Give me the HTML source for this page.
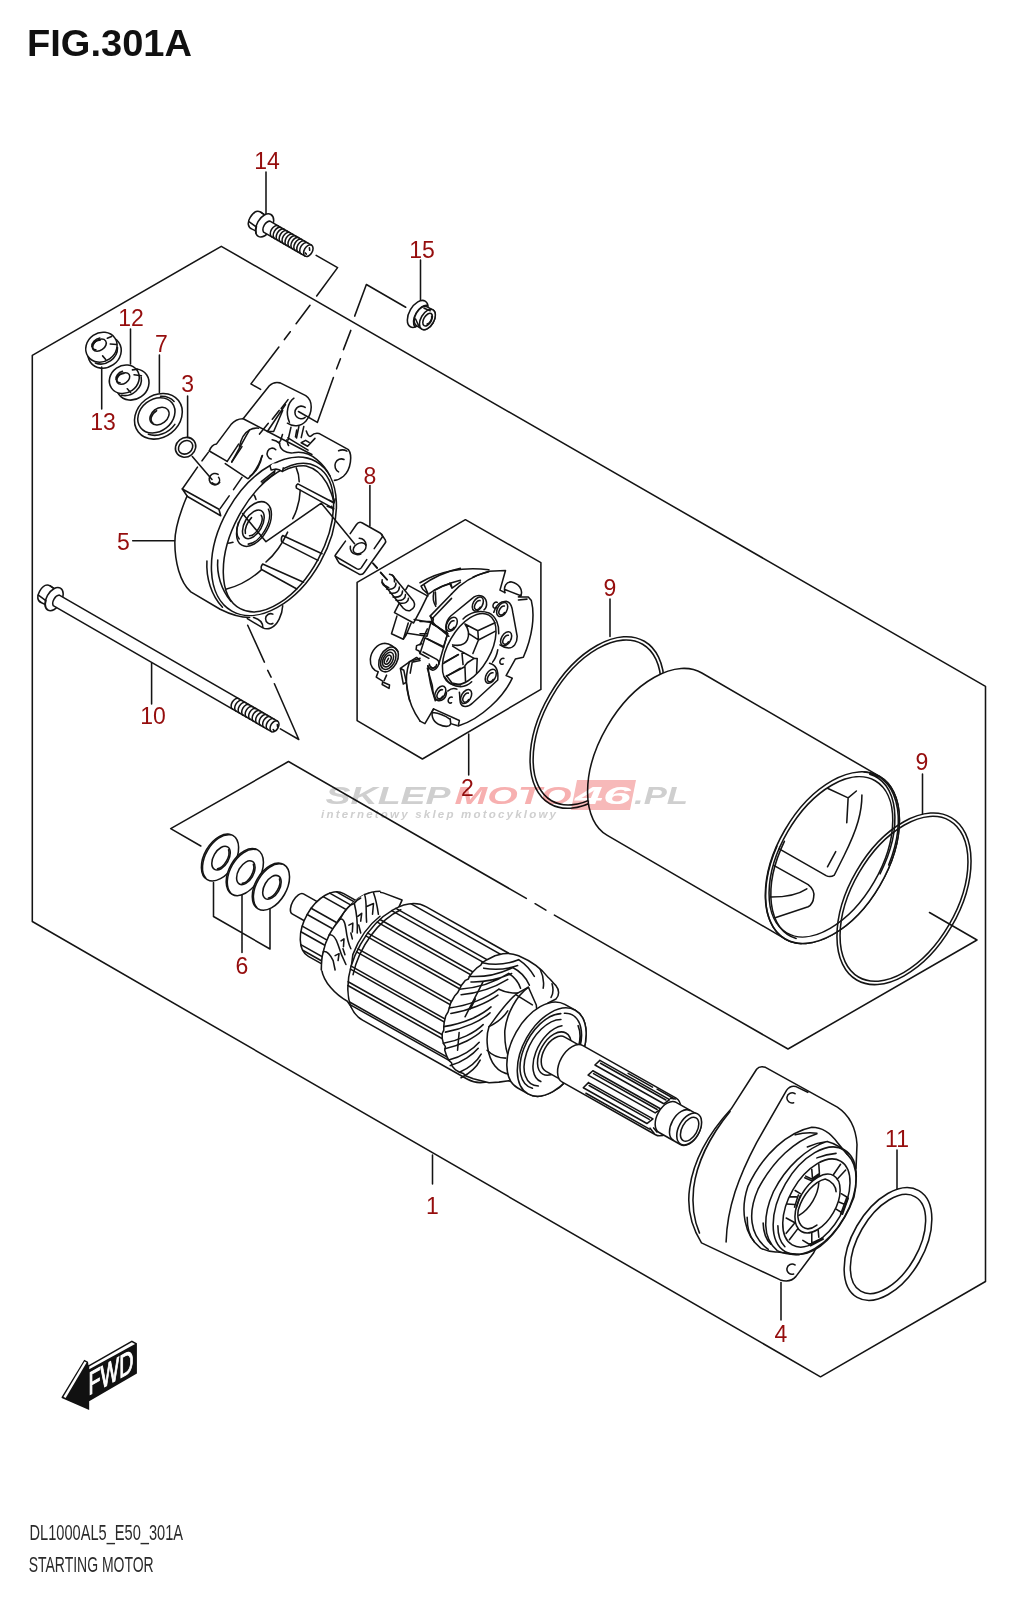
<!DOCTYPE html>
<html><head><meta charset="utf-8"><title>FIG.301A STARTING MOTOR</title>
<style>
html,body{margin:0;padding:0;background:#fff;}
body{width:1016px;height:1600px;overflow:hidden;font-family:"Liberation Sans",sans-serif;}
svg{display:block;}
svg text{font-family:"Liberation Sans",sans-serif;}
.k{vector-effect:non-scaling-stroke;fill:none;stroke:#141414;stroke-width:1.55;stroke-linecap:round;stroke-linejoin:round;}
.w{vector-effect:non-scaling-stroke;fill:#fff;stroke:#141414;stroke-width:1.55;stroke-linecap:round;stroke-linejoin:round;}
.t{vector-effect:non-scaling-stroke;fill:none;stroke:#1c1c1c;stroke-width:1;stroke-linecap:round;stroke-linejoin:round;}
.n{fill:#950d0d;font-size:23px;text-anchor:middle;}
</style></head>
<body>
<svg width="1016" height="1600" viewBox="0 0 1016 1600">
<rect width="1016" height="1600" fill="#fff"/>

<!-- TITLE -->
<text x="27" y="56" font-size="37.5" font-weight="bold" fill="#111" textLength="165" lengthAdjust="spacingAndGlyphs">FIG.301A</text>

<!-- FRAME -->
<g id="frame" class="k">
<path d="M32.3,921.5 V355.3 L221.3,246.3 L985.5,686.3 V1281.5 L820.5,1376.8 Z"/>
<!-- inner sub box -->
<path d="M200.8,846 L170.7,828.7 L288.5,761.5 L526.3,898.4 M535.1,903.7 L545.9,910.2 M554.4,915.1 L788,1049 L977,940 L929.5,912.5"/>
<!-- hexagon -->
<path d="M465.4,519.7 L540.9,562.7 V689.4 L422.4,759 L357.1,720.6 V582.4 Z"/>
</g>

<!-- LEADERS -->
<g id="leaders" class="k">
<path d="M266,172 V214"/>
<path d="M420.5,260 V301"/>
<path d="M130.5,329 V364"/>
<path d="M159.4,355 V392.5"/>
<path d="M187.6,396 V437.4"/>
<path d="M101.7,367 V409"/>
<path d="M369.9,485.5 V526"/>
<path d="M132.7,540.7 H174.5"/>
<path d="M192.3,456.5 L212,479.5"/>
<path d="M610,599 V636.5"/>
<path d="M922.5,774 V814"/>
<path d="M151.6,663.5 V704"/>
<path d="M468.7,734 V775"/>
<path d="M432.5,1155 V1184"/>
<path d="M781,1282.5 V1320"/>
<path d="M897,1150 V1189"/>
<path d="M213.5,882.5 V916.5 L270,949 V907.5 M242,895 V952.5"/>
<!-- bolt14 / nut15 leaders -->
</g>

<!-- LABELS -->
<g id="labels">
<text class="n" x="267" y="169.2">14</text>
<text class="n" x="422" y="258">15</text>
<text class="n" x="131" y="325.8">12</text>
<text class="n" x="161.5" y="352.2">7</text>
<text class="n" x="187.6" y="391.5">3</text>
<text class="n" x="103" y="430">13</text>
<text class="n" x="370" y="483.7">8</text>
<text class="n" x="123.3" y="549.7">5</text>
<text class="n" x="610" y="595.5">9</text>
<text class="n" x="153" y="724">10</text>
<text class="n" x="922" y="769.5">9</text>
<text class="n" x="467.5" y="795.6">2</text>
<text class="n" x="242" y="974">6</text>
<text class="n" x="897" y="1147">11</text>
<text class="n" x="432.5" y="1213.5">1</text>
<text class="n" x="781" y="1341.5">4</text>
</g>

<!-- BOLT 14 : local frame origin at flange centre, x along axis (30deg) -->
<g id="bolt14" transform="translate(264.6,225.4) rotate(30)">
<!-- hex head -->
<path class="w" d="M-10,-9.5 C-15,-9.5 -16.5,-4 -16.5,0.5 C-16.5,6 -14,10 -9,9.5 L-3,9 L-3,-9 Z"/>
<path class="k" d="M-15.5,4.5 L-6,5.5 M-10,-9.5 L-4,-9"/>
<!-- flange -->
<ellipse class="w" cx="0" cy="0" rx="7.6" ry="12.6"/>
<path class="k" d="M-3.5,11 A7.6,12.6 0 0 1 -6.5,5"/>
<!-- shaft -->
<path class="w" d="M2.5,-6.4 L50.5,-6.4 A4,6.4 0 0 1 50.5,6.4 L2.5,6.4 A4.6,6.9 0 0 1 2.5,-6.4 Z"/>
<path class="k" d="M50.5,-6.4 A4,6.4 0 0 0 50.5,6.4"/>
<path class="k" d="M12,-6.4 A4,6.4 0 0 0 12,6.4 M15.4,-6.4 A4,6.4 0 0 0 15.4,6.4 M18.8,-6.4 A4,6.4 0 0 0 18.8,6.4 M22.2,-6.4 A4,6.4 0 0 0 22.2,6.4 M25.6,-6.4 A4,6.4 0 0 0 25.6,6.4 M29,-6.4 A4,6.4 0 0 0 29,6.4 M32.4,-6.4 A4,6.4 0 0 0 32.4,6.4 M35.8,-6.4 A4,6.4 0 0 0 35.8,6.4 M39.2,-6.4 A4,6.4 0 0 0 39.2,6.4 M42.6,-6.4 A4,6.4 0 0 0 42.6,6.4 M46,-6.4 A4,6.4 0 0 0 46,6.4"/>
<path class="k" d="M50,-3 L51.5,-1 M49,3.5 L50.5,4"/>
</g>
<!-- bolt14 / nut15 dashed leaders (zoom coords origin 230,240 scale 5.976) -->
<g transform="translate(230,240) scale(0.16733)">
<path class="k" d="M515,92 L643,165 L518,335 M478,390 L395,500 M360,548 L325,595 M292,640 L125,860 L183,893"/>
<path class="k" d="M1050,402 L815,266 L745,455 M722,540 L678,655 M660,710 L637,770 M618,822 L522,1090 L409,1025"/>
</g>
<!-- NUT 15 -->
<g id="nut15" transform="translate(420.5,315.5) rotate(30)">
<ellipse class="w" cx="-3.2" cy="0" rx="8.4" ry="14.8"/>
<path class="k" d="M1,-12.3 A7,12.6 0 0 0 1,12.6"/>
<path class="w" d="M8,-11 A6.5,11 0 0 1 8,11 L1.5,10.8 A6.2,10.8 0 0 1 1.5,-10.8 Z"/>
<ellipse class="w" cx="8" cy="0" rx="6.5" ry="11.2"/>
<ellipse class="k" cx="8.2" cy="0" rx="3.8" ry="7"/>
<path class="k" d="M10,-5 A2.6,5 0 0 1 10,4"/>
<path class="k" d="M-0.5,-8 L6,-9 M-2.5,5.5 L3.5,9.8" />
</g>

<!-- NUT 13 -->
<g id="nut13" transform="translate(101.4,347.2) rotate(-35)">
<ellipse class="k" cx="-0.3" cy="6" rx="17.3" ry="15.2"/>
<ellipse class="w" cx="0" cy="0" rx="16.3" ry="14.3"/>
<path class="k" d="M-14,9.5 A15.5,13.5 0 0 0 13,9.5"/>
<ellipse class="k" cx="-0.5" cy="-2.8" rx="7.6" ry="5.2"/>
<path class="k" d="M-6,-1 A6,4 0 0 1 3,-6.5 M-7.5,-6 A7.5,5 0 0 1 4,-8.5"/>
<path class="k" d="M-4,7.8 L-3.5,12.5 M9,2.5 L14,6.5 M10,-4 L14.5,-3"/>
</g>
<!-- NUT 12 -->
<g id="nut12" transform="translate(124.3,379.2) rotate(-35)">
<ellipse class="k" cx="3.8" cy="9.2" rx="17" ry="14.8"/>
<ellipse class="w" cx="0" cy="0" rx="15.6" ry="13.6"/>
<path class="k" d="M-11.5,11.5 A15.5,13.5 0 0 0 15,8"/>
<ellipse class="k" cx="-0.5" cy="-1.2" rx="7.2" ry="5"/>
<path class="k" d="M-5.5,0.5 A5.5,3.8 0 0 1 3,-5 M-7,-4.5 A7,4.8 0 0 1 3,-7.5"/>
<path class="k" d="M-3,9.5 L-2.5,14.5 M10.5,2 L16,7 M12,-3 L16.5,-0.5"/>
</g>
<!-- WASHER 7 -->
<g id="washer7" transform="translate(158.4,416.3) rotate(-38)">
<ellipse class="w" cx="0" cy="0" rx="25.5" ry="21"/>
<ellipse class="k" cx="-1" cy="-2" rx="20" ry="16"/>
<path class="k" d="M-19,8 A22,18 0 0 0 8,16.5 M14,-14.5 A22,18 0 0 1 21.5,-2"/>
<ellipse class="k" cx="1" cy="0.5" rx="10.5" ry="7.8"/>
<path class="k" d="M-8.5,2 A9,6.5 0 0 1 2,-5.5"/>
</g>
<!-- ORING 3 -->
<g id="oring3" transform="translate(185.6,447.3) rotate(-38)">
<ellipse class="k" cx="0" cy="0" rx="10.6" ry="9.5"/>
<ellipse class="k" cx="0" cy="0" rx="7.6" ry="6.3"/>
</g>

<!-- PLATE 8 (zoom coords origin 325,510 scale 12.7) -->
<g id="plate8" transform="translate(325,510) scale(0.07874)">
<path class="k" d="M320,300 L400,185 Q430,140 475,165 L700,292 Q730,310 730,340 L625,490 M530,630 L460,735 Q435,765 400,745 L135,590 Q125,580 130,575 L260,395"/>
<path class="k" d="M718,308 L765,380 Q778,400 762,422 L500,790 Q472,832 428,812 L190,680 Q172,668 132,588"/>
<ellipse class="k" cx="440" cy="485" rx="88" ry="62" transform="rotate(-32 440 485)"/>
<path class="k" d="M435,360 C480,362 515,395 522,445 M322,462 C312,510 345,560 400,566 C420,568 440,566 455,560"/>
<path class="k" d="M610,680 L660,738 M705,795 L790,885"/>
</g>

<!-- BRUSH HOLDER 2 -->
<!-- frame A: origin 360,560 scale 10.16 : stud, block, spring -->
<g id="brushA" transform="translate(360,560) scale(0.09843)">
<path class="k" d="M130,30 L175,80 M210,125 L275,200"/>
<!-- stud -->
<path class="k" d="M330,155 L545,420 C565,455 555,495 505,515 C475,520 455,505 440,490 L225,225"/>
<path class="k" d="M300,145 C335,150 355,180 350,222 M225,200 C215,240 245,278 292,280 M262,262 L290,280"/>
<path class="k" d="M365,235 C365,280 330,305 270,295 M400,275 C400,320 365,345 302,335 M432,315 C432,360 398,385 335,375 M462,352 C462,395 430,420 366,410 M492,388 C492,425 462,448 400,438"/>
<!-- block -->
<path class="k" d="M465,300 L490,258 L685,365 C650,440 600,540 545,640 L350,535 L395,445"/>
<path class="k" d="M375,570 L320,750 L440,805 L490,640 M440,805 L470,760 L520,640"/>
<path class="k" d="M550,605 L720,635 L680,775 L480,745"/>
<!-- upper arcs / back plate -->
<path class="k" d="M620,265 C750,170 900,110 1020,85 M620,265 L640,300 L690,345 L690,365 M650,250 L690,340"/>
<path class="k" d="M700,345 C780,280 880,240 1020,205 M910,235 L935,285 L1020,225"/>
<path class="k" d="M750,330 C738,380 745,430 770,470"/>
<path class="k" d="M930,345 L712,570 L745,600 M930,390 L740,590"/>
<path class="k" d="M745,600 L735,650 L775,670 L885,742"/>
<!-- brush boxes -->
<path class="k" d="M720,635 L890,750 L850,880 L660,790 L610,950 L700,1000"/>
<path class="k" d="M680,800 L850,890 M640,935 L780,1010 Q810,1030 800,1060 Q780,1115 740,1120 Q700,1110 690,1075"/>
<path class="k" d="M890,750 L840,920 L800,1060 M850,1050 L1000,960 M880,1180 L1020,1100"/>
<path class="k" d="M720,1085 A22,18 0 0 0 762,1085"/>
<path class="k" d="M625,850 L575,870 L570,910 L600,925 L610,950"/>
<!-- spring -->
<path class="k" d="M250,845 C180,850 110,920 105,1010 C100,1080 140,1125 185,1135 L165,1190 L230,1230 M270,1170 L245,1225 M250,845 C300,850 350,880 385,930"/>
<g transform="rotate(28 290 1010)">
<ellipse class="k" cx="290" cy="1010" rx="88" ry="135"/>
<ellipse class="k" cx="288" cy="1012" rx="68" ry="108"/>
<ellipse class="k" cx="286" cy="1014" rx="48" ry="80"/>
<ellipse class="k" cx="284" cy="1016" rx="28" ry="50"/>
<path class="k" d="M284,1000 L284,1040"/>
</g>
<path class="k" d="M230,1240 L300,1270 L295,1305 L225,1265 Z"/>
<!-- lower-left plate corner -->
<path class="k" d="M410,1100 L510,1030 L575,990 L610,1020 L540,1035 M410,1100 L440,1260 L470,1240 L445,1120 Z M530,1040 L510,1150 M470,1240 C480,1300 490,1370 505,1430"/>
<path class="k" d="M690,1075 C700,1200 730,1330 765,1430"/>
</g>
<!-- frame C: origin 420,560 scale 8.128 : plates -->
<g id="brushC" transform="translate(420,560) scale(0.12303)">
<!-- back plate top arc -->
<path class="k" d="M0,185 C150,95 350,50 560,80"/>
<!-- front plate -->
<path class="k" d="M256,276 C330,190 440,125 560,92 L695,86 L650,245 L690,265"/>
<path class="k" d="M430,140 C470,120 520,105 560,95"/>
<path class="k" d="M110,250 C160,220 210,200 250,190 L260,225 M125,260 L130,360"/>
<path class="k" d="M820,290 L800,300 L880,300 L905,330 C935,450 915,620 840,790 L775,805 L700,940 L750,960 C680,1110 500,1290 310,1350 L320,1305 L110,1210 L40,1330 L0,1310"/>
<path class="k" d="M800,325 L870,318"/>
<!-- pins -->
<path class="k" d="M690,265 C678,215 700,175 745,178 C800,190 840,240 820,290 L690,240"/>
<path class="k" d="M110,1210 C85,1250 100,1310 150,1335 C200,1358 240,1360 250,1330 L245,1290 M105,1240 C150,1245 210,1270 245,1295 M250,1330 L300,1345"/>
<!-- ring plate outline -->
<path class="k" d="M225,600 C200,560 205,500 250,455 L440,300 C480,275 530,290 540,340 C545,375 535,395 520,405"/>
<path class="k" d="M600,425 C615,370 650,335 700,335 C735,340 750,380 755,430 L790,620 C790,680 760,715 720,715 C690,715 670,705 650,690"/>
<path class="k" d="M565,840 C610,850 640,890 632,975 L430,1160 C390,1200 340,1200 328,1160 C322,1130 325,1100 320,1075"/>
<path class="k" d="M215,1075 C215,1120 180,1150 145,1143 C115,1135 105,1090 100,1020 L60,880"/>
<path class="k" d="M300,1050 C280,1040 250,1045 225,1065"/>
<!-- centre hole -->
<ellipse class="k" cx="400" cy="725" rx="171" ry="320" transform="rotate(30 400 725)"/>
<path class="k" d="M350,480 C400,430 480,400 560,430 C620,460 645,530 640,600 M632,730 C625,770 610,805 590,830 M200,950 C230,1000 280,1030 330,1030 C370,1028 400,1010 420,990"/>
<!-- rivets -->
<defs><g id="rv"><ellipse class="k" cx="0" cy="0" rx="38" ry="62" transform="rotate(30)"/><path class="k" d="M18,-28 A24,40 30 1 0 20,25"/></g></defs>
<use href="#rv" transform="translate(470,358)"/><use href="#rv" transform="translate(668,402)"/><use href="#rv" transform="translate(700,640)"/><use href="#rv" transform="translate(575,945)"/><use href="#rv" transform="translate(375,1110)"/><use href="#rv" transform="translate(165,1082)"/><use href="#rv" transform="translate(258,522)"/>
<!-- C marks -->
<path class="k" d="M628,345 A20,26 30 1 0 622,388 M682,800 A20,26 30 1 0 676,845 M262,1115 A20,26 30 1 0 256,1160"/>
<!-- brush boxes in hole -->
<path class="k" d="M365,520 L470,575 L610,510 M470,575 L475,650 L610,580 M365,520 C395,560 405,600 385,650 C365,690 320,700 265,690 M400,600 L475,650 L430,760"/>
<path class="k" d="M265,700 L330,740 L440,800 L465,800 L460,920 M440,800 L385,835 L365,860 L370,985 M200,830 L310,770 M215,945 L360,870 M340,745 L350,850"/>
<path class="k" d="M215,940 L260,1000 L330,1015"/>
<!-- left boxes seen in C frame -->
<path class="k" d="M0,500 L100,500 L85,455 M100,500 L125,530 L235,620 M0,600 L60,600 M60,560 L0,690"/>
<path class="k" d="M75,845 C90,900 130,880 135,850"/>
</g>
<!-- frame B: origin 360,540 scale 5.492 -->
<g id="brushB" transform="translate(360,540) scale(0.18208)">
<path class="k" d="M272,668 C240,760 250,880 330,995"/>
<path class="k" d="M272,668 L330,650"/>
</g>

<!-- END CAP 5 : traced in zoom coords (origin 165,375 scale 5.08) -->
<g id="endcap" transform="translate(165,375) scale(0.19685)">
<!-- rim ellipses -->
<ellipse class="k" cx="553.3" cy="819.5" rx="269.6" ry="436" transform="rotate(29.3 553.3 819.5)"/>
<ellipse class="k" cx="576.3" cy="826.2" rx="229.6" ry="409.4" transform="rotate(28.3 576.3 826.2)"/>
<!-- short arcs left -->
<path class="k" d="M213,945 C208,1030 235,1120 292,1180"/>
<path class="k" d="M268,940 C262,1010 285,1090 335,1150"/>
<!-- body outline -->
<path class="k" d="M112,615 C80,690 50,780 50,850 C50,950 75,1050 131,1102 L280,1190 C330,1215 380,1232 430,1232"/>
<!-- bottom ear -->
<path class="k" d="M418,1238 L495,1283 C520,1297 555,1290 580,1240 C592,1215 597,1195 598,1172"/>
<path class="k" d="M450,1232 C480,1240 497,1260 497,1283"/>
<path class="k" d="M548,1215 A26,26 0 1 0 548,1262"/>
<!-- terminal block -->
<path class="k" d="M225,386 L316,439 M306,450 L420,526"/>
<path class="k" d="M220,393 L188,436 M165,468 L88,579"/>
<path class="k" d="M391,520 L348,582 M326,614 L280,679"/>
<path class="k" d="M88,579 L274,682 L283,715 L114,617 Z"/>
<path class="k" d="M270,505 A29,29 0 1 0 278,545 M240,548 A20,20 0 0 0 272,520"/>
<!-- behind terminal block -->
<path class="k" d="M225,386 C232,365 245,352 262,350 L335,252 C355,228 375,222 395,222"/>
<path class="k" d="M316,439 L374,351 M339,442 L391,364"/>
<path class="k" d="M430,279 C405,320 380,370 339,442"/>
<path class="k" d="M378,365 C385,330 400,295 430,279 Q450,268 475,270"/>
<path class="k" d="M495,409 C480,450 455,500 423,526"/>
<path class="k" d="M395,221 L746,404"/>
<!-- top ear -->
<path class="k" d="M400,218 L530,55 Q552,32 585,40 L715,105 C752,130 752,190 715,235 C690,262 650,265 622,245"/>
<path class="k" d="M655,118 C625,140 610,190 632,240"/>
<path class="k" d="M712,165 A32,32 0 1 0 712,215"/>
<path class="k" d="M625,125 L590,170 M580,180 L545,225 M525,245 L480,300"/>
<path class="k" d="M612,150 L520,287 L552,287 L598,180"/>
<path class="k" d="M640,265 L625,330 M680,262 L668,320 M705,262 L692,318"/>
<!-- small C -->
<!-- right boss -->
<!-- notch -->
<!-- ribs -->
<path class="k" d="M857,649 L675,553 Q662,560 668,575 L687,585 L849,674"/>
<path class="k" d="M798,908 L598,815 Q588,825 592,845 L602,853 L777,942"/>
<path class="k" d="M704,1053 L496,960 Q485,972 490,988 L500,993 L670,1087"/>
<!-- inner arcs -->
<path class="k" d="M687,585 C685,640 670,690 649,730"/>
<path class="k" d="M623,798 C595,860 560,910 513,950"/>
<path class="k" d="M309,1089 C380,1070 440,1035 488,991"/>
<!-- bearing -->
<clipPath id="cpE2"><ellipse cx="576.3" cy="826.2" rx="229.6" ry="409.4" transform="rotate(28.3 576.3 826.2)"/></clipPath>
<g clip-path="url(#cpE2)"><g transform="rotate(30 452 757)">
<ellipse class="k" cx="452" cy="757" rx="73" ry="124"/>
<path class="k" d="M478,655 A60,110 0 0 1 478,860"/>
<path class="k" d="M425,860 A60,110 0 0 1 380,790"/>
<ellipse class="k" cx="450" cy="760" rx="44" ry="80"/>
<path class="k" d="M462,700 A30,62 0 0 1 462,820"/>
<path class="k" d="M438,820 A30,62 0 0 1 425,735"/>
</g>
<path class="k" d="M395,588 C430,585 455,600 462,632"/>
<path class="k" d="M258,835 C285,855 320,858 345,850"/>
</g>
<!-- V leader -->
<path class="k" d="M394,704 L513,847 L794,651 L963,857"/>
</g>
<!-- end cap top details : frame origin 250,430 scale 10.16 -->
<g transform="translate(250,430) scale(0.098425)">
<!-- third inner line at top right -->
<path class="k" d="M340,415 C400,385 500,360 570,365 C650,385 730,450 780,540 C815,610 840,680 850,720"/>
<!-- swoosh body line -->
<path class="k" d="M300,130 C300,200 360,240 440,232 C520,215 600,235 680,300 C740,350 790,420 815,470"/>
<path class="k" d="M375,100 C380,130 385,150 392,158 M330,45 L312,105 C305,120 295,128 282,125 M225,100 C250,105 280,118 300,135"/>
<path class="k" d="M385,80 L590,205"/>
<!-- notch -->
<path class="w" d="M205,372 L215,407 L255,398 C285,395 305,405 330,422 L338,385 L330,340 L230,340 Z" style="stroke:none"/>
<path class="k" d="M205,372 L215,407 L255,398 C285,395 305,405 330,422 L338,385 M240,425 L115,525 M250,440 L125,540 M255,400 L248,435"/>
<!-- small C -->
<path class="k" d="M262,200 A52,56 0 1 0 215,295"/>
<!-- bump boundary -->
<path class="k" d="M120,265 C110,350 60,430 0,468"/>
<!-- right boss -->
<path class="k" d="M572,10 C585,50 600,75 622,60 Q655,25 700,35 L1000,200 C1040,250 1030,400 950,470 C920,495 890,510 858,512"/>
<path class="k" d="M955,300 A58,62 0 1 0 900,425 M900,210 C930,198 960,200 985,215"/>
<path class="k" d="M660,85 L585,165 L520,130 L565,105 L600,125"/>
<path class="k" d="M475,0 L462,70"/>
<!-- inner arc + rib start -->
<path class="k" d="M470,385 C490,430 500,480 500,525"/>
<!-- ticks right -->
<path class="k" d="M810,715 L855,740 L865,700 M785,775 L850,800 M830,775 L845,813"/>
</g>

<!-- BOLT 10 -->
<g id="bolt10" transform="translate(54.1,599.1) rotate(30)">
<path class="w" d="M-10,-9.5 C-15,-9.5 -16.5,-4 -16.5,0.5 C-16.5,6 -14,10 -9,9.5 L-3,9 L-3,-9 Z"/>
<path class="k" d="M-15.5,4.5 L-6,5.5 M-10,-9.5 L-4,-9"/>
<ellipse class="w" cx="0" cy="0" rx="7.6" ry="12.6"/>
<path class="k" d="M-3.5,11 A7.6,12.6 0 0 1 -6.5,5"/>
<path class="w" d="M2.5,-6.1 L254.5,-6.1 A3.8,6.1 0 0 1 254.5,6.1 L2.5,6.1 A4.4,6.7 0 0 1 2.5,-6.1 Z"/>
<path class="k" d="M254.5,-6.1 A3.8,6.1 0 0 0 254.5,6.1"/>
<path class="k" d="M209.6,-6.1 A3.8,6.1 0 0 0 209.6,6.1 M213.7,-6.1 A3.8,6.1 0 0 0 213.7,6.1 M217.7,-6.1 A3.8,6.1 0 0 0 217.7,6.1 M221.8,-6.1 A3.8,6.1 0 0 0 221.8,6.1 M225.8,-6.1 A3.8,6.1 0 0 0 225.8,6.1 M229.8,-6.1 A3.8,6.1 0 0 0 229.8,6.1 M233.9,-6.1 A3.8,6.1 0 0 0 233.9,6.1 M237.9,-6.1 A3.8,6.1 0 0 0 237.9,6.1 M242.0,-6.1 A3.8,6.1 0 0 0 242.0,6.1 M246.0,-6.1 A3.8,6.1 0 0 0 246.0,6.1 M250.1,-6.1 A3.8,6.1 0 0 0 250.1,6.1"/>
<path class="k" d="M256,-3 L257.5,-1 M255,3.5 L256.5,4"/>
</g>
<!-- dashed line from cap ear to bolt10 end -->
<path class="k" d="M247.7,625.3 L264.4,662.1 M267.7,670.4 L271.1,677.1 M274.4,683.8 L298.8,739.5 L280.4,728.9"/>

<!-- O-RING 9 left -->
<g transform="translate(597.1,722.5) rotate(30.2)">
<ellipse class="k" cx="0" cy="0" rx="55" ry="94"/>
<ellipse class="k" cx="0" cy="0" rx="52" ry="90.5"/>
</g>
<!-- CYLINDER HOUSING -->
<g id="cyl" transform="translate(654.6,754.2) rotate(30.2)">
<path class="w" d="M0,-94 L205.7,-94 A55,94 0 0 1 205.7,94 L0,94 A55,94 0 0 1 0,-94 Z"/>
<ellipse class="w" cx="205.7" cy="0" rx="55" ry="94"/>
<ellipse class="k" cx="204" cy="0" rx="50" ry="88"/>
<path class="k" d="M190,-90 A55,94 0 0 1 258,-22 M196,-91 A52,91 0 0 1 255,-10"/>
<path class="k" d="M152,18 A55,94 0 0 0 222,90 M156,10 A52,91 0 0 0 215,88"/>
</g>
<!-- magnets inside (zoom coords origin 720,740 scale 3.629) -->
<g transform="translate(720,740) scale(0.27556)">
<path class="k" d="M390,175 L465,210 L495,185 M465,210 L460,300 M515,200 C515,260 500,320 450,420 L415,490 Q400,500 385,492 L215,395 M420,405 L390,460"/>
<path class="k" d="M195,455 L320,525 Q345,545 340,570 Q338,595 320,605 L200,645 M185,570 C240,570 285,560 315,540"/>
</g>
<!-- O-RING 9 right -->
<g transform="translate(904,898.8) rotate(30.2)">
<ellipse class="k" cx="0" cy="0" rx="55" ry="94"/>
<ellipse class="k" cx="0" cy="0" rx="52" ry="90.5"/>
</g>

<!-- WASHERS 6 -->
<g id="w6a" transform="translate(220,857.5) rotate(30)">
<ellipse class="w" cx="0" cy="0" rx="15.6" ry="25.6"/>
<path class="k" d="M-3,-25 A15.6,25.6 0 0 0 -3,25" transform="translate(0.9,0)"/>
<ellipse class="k" cx="1.2" cy="0" rx="7.6" ry="13"/>
<path class="k" d="M3.5,-11 A6.5,12 0 0 1 3.5,11"/>
</g>
<g id="w6b" transform="translate(244.8,872.1) rotate(30)">
<ellipse class="w" cx="0" cy="0" rx="15.6" ry="25.6"/>
<path class="k" d="M-3,-25 A15.6,25.6 0 0 0 -3,25" transform="translate(0.9,0)"/>
<ellipse class="k" cx="1.2" cy="0" rx="7.6" ry="13"/>
<path class="k" d="M3.5,-11 A6.5,12 0 0 1 3.5,11"/>
</g>
<g id="w6c" transform="translate(270.9,886.7) rotate(30)">
<ellipse class="w" cx="0" cy="0" rx="15.6" ry="25.6"/>
<path class="k" d="M-3,-25 A15.6,25.6 0 0 0 -3,25" transform="translate(0.9,0)"/>
<ellipse class="k" cx="1.2" cy="0" rx="7.6" ry="13"/>
<path class="k" d="M3.5,-11 A6.5,12 0 0 1 3.5,11"/>
</g>

<!-- ARMATURE 1 : frame F -->
<g id="arm" transform="translate(294.7,907.3) rotate(29.4)">
<path class="w" d="M1,-16 L24,-16 L24,7 L1,7 A4.5,11.5 0 0 1 1,-16 Z" style="stroke:none"/>
<path class="k" d="M24,-16 L1,-16 A5.5,11.5 0 0 0 1,7 L16,7"/>
<path class="w" d="M36.0,-36.0 L80.0,-36.0 A21.6,36.0 0 0 1 80.0,36.0 L36.0,36.0 A21.6,36.0 0 0 1 36.0,-36.0 Z"/>
<path class="k" d="M28.9,-34.0 L80.0,-34.0 M23.6,-29.5 L80.0,-29.5 M19.5,-23.3 L80.0,-23.3 M14.8,-7.3 L80.0,-7.3 M14.4,0.1 L80.0,0.1 M15.8,12.7 L80.0,12.7 M17.4,18.3 L80.0,18.3 M23.6,29.5 L80.0,29.5 M28.1,33.5 L80.0,33.5 "/>
<path class="w" d="M51,-39 C56,-49 62,-54 70,-56 L90,-59 L100,60 L92,56 C78,56 62,51 54,41 C47,30 44,15 44,0 C44,-15 47,-30 51,-39 Z"/>
</g>
<g transform="translate(280,870) scale(0.098425)">
<path class="w" d="M790,290 C740,330 640,460 610,500 C560,560 520,620 500,660 C470,720 450,780 440,830 C425,880 420,930 420,1020 L760,1020 L900,560 L1016,470 L1016,215 L940,215 L860,250 Z" style="stroke:none"/>
<path class="k" d="M820,285 C790,300 760,330 755,340 C700,350 640,440 610,500 C560,560 520,620 500,660 C470,720 450,780 440,830 C425,880 420,930 420,1016"/>
<path class="k" d="M755,340 C775,420 790,520 785,640 M610,500 C640,490 660,520 670,600 C680,680 700,760 720,800 M500,660 C540,650 570,700 590,760 C610,830 640,900 670,960 M440,830 C480,820 510,860 540,920 L560,1016"/>
<path class="k" d="M700,560 L740,540 L735,630 M790,470 L830,440 L820,520 M880,370 L950,340 L940,450 M620,720 L650,700 L645,780 M560,870 L600,850 L590,920 M800,560 L820,640 M720,640 L735,700 M640,800 L660,860"/>
<path class="k" d="M860,250 C900,230 940,215 1016,215 M860,250 C885,330 870,420 880,530 M950,230 C975,300 990,380 1000,450"/>
<path class="k" d="M1016,470 C900,560 800,700 740,860 L720,1016"/>
</g>
<g transform="translate(294.7,907.3) rotate(29.4)">
<path class="w" d="M114.5,-65.0 L235.0,-65.0 A39.0,65.0 0 0 1 235.0,65.0 L114.5,65.0 A39.0,65.0 0 0 1 114.5,-65.0 Z"/>
<path class="k" d="M99.8,-60.2 L235,-60.2 M88.7,-48.8 L235,-48.8 M86.2,-44.7 L235,-44.7 M80.3,-31.2 L235,-31.2 M79.2,-27.6 L235,-27.6 M76.3,-13.4 L235,-13.4 M76.0,-10.0 L235,-10.0 M75.6,5.1 L235,5.1 M75.8,8.5 L235,8.5 M78.1,23.5 L235,23.5 M78.9,26.5 L235,26.5 M83.1,38.6 L235,38.6 M84.7,42.0 L235,42.0 M94.3,55.6 L235,55.6 M96.4,57.6 L235,57.6 "/>
<path class="k" d="M93.6,-50 A39.0,65.0 0 0 0 83.9,30"/>
</g>
<g transform="translate(430,940) scale(0.19685)">
<path class="w" d="M370,70 L330,80 L290,100 L265,115 L258,128 L240,140 L215,165 L200,185 L195,198 L180,205 L160,230 L150,250 L140,268 L125,285 L105,320 L98,345 L92,365 L80,385 L72,420 L70,440 L70,458 L62,475 L62,500 L68,525 L78,542 L75,560 L85,590 L95,610 L110,625 L112,640 L130,660 L150,672 L170,678 L180,690 L220,705 L260,715 L300,725 L350,722 L400,715 L470,740 L560,600 L600,320 L640,300 C660,280 655,250 640,232 C620,215 610,195 600,190 C570,150 520,110 450,80 C420,68 395,66 370,70 Z"/>
<path class="k" d="M265,115 C330,130 400,120 450,100 M273,143 C335,155 400,145 445,130 M200,185 C280,190 360,170 420,140 M208,213 C285,215 360,195 415,170 M150,250 C240,245 330,215 400,170 M158,278 C245,270 330,240 395,200 M98,345 C190,335 290,295 350,250 M106,373 C195,360 290,320 345,280 M70,440 C170,425 260,385 310,340 M78,468 C175,450 260,410 305,370 M68,525 C150,510 230,470 270,430 M76,553 C155,535 230,495 265,460 M95,610 C160,595 220,555 250,520 M103,638 C165,620 220,580 245,550 M150,672 C200,650 240,615 260,580 M158,700 C205,675 240,640 255,610 "/>
<path class="k" d="M268,215 L178,390 M148,470 L140,560 M230,300 L205,350"/>
<path class="k" d="M450,100 C480,120 510,150 530,185 M420,140 C460,160 490,195 505,230 M400,170 C430,190 450,215 460,245 M560,150 C575,180 580,215 575,245 M620,222 C628,250 625,275 615,292"/>
<path class="w" d="M445,270 C390,310 345,380 300,440 C280,500 290,590 330,640 C350,665 380,680 410,682 L480,740 L560,560 L540,330 L500,240 Z"/>
<path class="k" d="M500,240 C440,285 390,370 380,460 C378,530 390,600 430,650"/>
<path class="k" d="M300,440 C340,420 370,400 395,360 M290,560 C320,590 350,600 385,600 M350,250 C380,265 410,270 445,270"/>
<path class="k" d="M440,280 L520,330"/>
</g>
<g transform="translate(294.7,907.3) rotate(29.4)">
<path class="w" d="M283.0,-48.0 L295.0,-48.0 A28.8,48.0 0 0 1 295.0,48.0 L283.0,48.0 A28.8,48.0 0 0 1 283.0,-48.0 Z"/>
<ellipse class="w" cx="295" cy="0" rx="28.8" ry="48"/>
<path class="k" d="M287,-40 A24,41 0 0 1 319,-5 M305,-36 A22,38 0 0 1 317,10"/>
<path class="k" d="M287,-33 A21,36 0 0 0 300,36 M291,-28 A18,31 0 0 0 300,31 M284,-38 A24,41 0 0 0 296,41"/>
<ellipse class="k" cx="298" cy="0" rx="14" ry="23.6"/>
<path class="w" d="M299.0,-19.5 L319.0,-19.5 A11.7,19.5 0 0 1 319.0,19.5 L299.0,19.5 A11.7,19.5 0 0 1 299.0,-19.5 Z"/>
<path class="w" d="M319.0,-21.0 L426.0,-21.0 A12.6,21.0 0 0 1 426.0,21.0 L319.0,21.0 A12.6,21.0 0 0 1 319.0,-21.0 Z"/>
<path class="k" d="M341.0,-16.5 L421.0,-16.5 L418.0,-10.0 L339.0,-10.0 L341.0,-16.5 M343.0,-14.3 L418.0,-14.3 M340.0,-4.0 L418.0,-4.0 L415.0,2.2 L338.0,2.2 L340.0,-4.0 M342.0,-1.8 L415.0,-1.8 M342.0,8.5 L416.0,8.5 L413.0,15.5 L340.0,15.5 L342.0,8.5 M344.0,10.7 L413.0,10.7 M345,19 L418,19 M372,-19 L400,-19 M405,-19.5 L424,-19.5 "/>
<path class="k" d="M421,-18 L426,-20 M418,18 L424,20.5 M424,-14 L428,-17 M421,16 L426,18"/>
<path class="w" d="M428.0,-17.3 L452.5,-17.3 A10.4,17.3 0 0 1 452.5,17.3 L428.0,17.3 A10.4,17.3 0 0 1 428.0,-17.3 Z"/>
<ellipse class="w" cx="452.5" cy="-0.5" rx="10.4" ry="17.3"/>
<ellipse class="k" cx="453" cy="-0.5" rx="7.6" ry="13"/>
<path class="k" d="M447,-17 A10,17 0 0 0 447,17" transform="translate(-3,0)"/>
</g>

<!-- END COVER 4 : frame G origin 670,1050 scale 5.08 -->
<g id="cover4" transform="translate(670,1050) scale(0.19685)">
<path class="w" d="M440,98 Q455,78 485,88 L850,290 C910,330 945,400 950,480 L945,600 L730,1030 L640,1150 Q610,1185 560,1168 L160,980 C110,900 85,800 100,700 C120,560 200,420 310,300 Z"/>
<path class="k" d="M305,312 C200,440 135,580 120,700 C110,790 120,860 150,930"/>
<path class="k" d="M700,215 L640,186 Q612,178 592,205 L440,470 C350,640 290,800 285,975"/>
<path class="k" d="M635,222 A26,26 0 1 0 628,268 M635,1092 A26,26 0 1 0 628,1138"/>
</g>
<!-- boss : frame H origin 735,1115 scale 7.815 -->
<g id="boss4" transform="translate(735,1115) scale(0.12796)">
<path class="w" d="M600,95 C420,130 220,300 100,560 C40,740 70,940 200,1040 C250,1065 300,1072 330,1070 L500,1090 L560,1080 C700,1040 850,860 930,640 C960,500 950,380 880,310 L800,215 C740,130 670,95 600,95 Z"/>
<path class="k" d="M470,155 C530,138 590,135 640,142 M640,146 C470,200 300,350 180,580 C100,760 110,940 260,1050"/>
<path class="k" d="M565,250 C620,225 670,212 720,207 C790,225 850,270 880,310 M720,206 C560,260 400,400 300,600 C220,780 210,960 330,1060 C380,1085 440,1092 500,1090"/>
<ellipse class="k" cx="623" cy="670" rx="265" ry="460" transform="rotate(30 623 670)"/>
<ellipse class="k" cx="636" cy="688" rx="211" ry="378" transform="rotate(30 636 688)"/>
<path class="k" d="M640,335 C690,315 740,303 790,300"/>
<path class="k" d="M95,800 C95,880 115,950 150,990 M220,845 C222,920 245,975 280,1010 M335,865 C335,940 355,995 390,1030"/>
<ellipse class="k" cx="645" cy="692" rx="143" ry="252" transform="rotate(30 645 692)"/>
<path class="k" d="M790,600 C790,560 760,515 705,500 C620,520 530,620 495,740 C480,820 510,885 570,890 C595,888 620,875 640,860"/>
<path class="k" d="M655,530 C650,620 590,730 500,785"/>
<path class="k" d="M600,425 L605,490 M655,385 L660,465 M545,490 L600,515 L660,470 M552,478 L600,500 L652,462"/>
<path class="k" d="M825,385 L770,465 M865,430 L800,500"/>
<path class="k" d="M830,615 L880,645 M875,640 L825,775 M885,650 L840,775 M790,735 L830,760 M812,680 L850,695"/>
<path class="k" d="M600,920 L600,1000 M650,900 L655,955 M530,980 L580,1010 L685,960 M590,1022 L690,970"/>
<path class="k" d="M400,925 L470,840 M425,975 L490,890 M400,805 L465,840"/>
<path class="k" d="M405,695 L465,700 M430,640 L480,640 M470,590 L510,615 M495,625 L465,720 M510,630 L480,725"/>
</g>
<!-- O-RING 11 -->
<g id="oring11" transform="translate(888,1244) rotate(30)">
<ellipse class="k" cx="0" cy="0" rx="36" ry="61.7"/>
<ellipse class="k" cx="0" cy="0" rx="30" ry="54.5"/>
</g>

<!-- FWD ARROW : frame origin 50,1330 scale 10.16 -->
<g id="fwd" transform="translate(50,1330) scale(0.098425)">
<polygon points="118,680 348,302 386,322 391,357 832,107 883,135 883,443 398,723 398,814 118,690" fill="#111"/>
<polygon points="137,677 351,320 372,331 159,691" fill="#fff"/>
<polygon points="399,371 831,124 864,141 399,398" fill="#fff"/>
</g>
<text transform="translate(88.6,1395.6) skewY(-29) scale(0.615,1)" font-size="32" fill="#fff" stroke="#fff" stroke-width="1.1">FWD</text>



<!-- WATERMARK -->
<g id="wm" style="mix-blend-mode:multiply">
<polygon points="577,780 636,780 630,810 571,810" fill="#f7b9b9"/>
<text x="325.6" y="804" font-size="23" font-weight="bold" font-style="italic" fill="#cfcfcf" textLength="125" lengthAdjust="spacingAndGlyphs">SKLEP</text>
<text x="454.5" y="804" font-size="23" font-weight="bold" font-style="italic" fill="#f7b0b0" textLength="117" lengthAdjust="spacingAndGlyphs">MOTO</text>
<text x="575" y="804" font-size="23" font-weight="bold" font-style="italic" fill="#fff" textLength="56" lengthAdjust="spacingAndGlyphs">46</text>
<text x="634" y="804" font-size="23" font-weight="bold" font-style="italic" fill="#cfcfcf" textLength="54" lengthAdjust="spacingAndGlyphs">.PL</text>
<text x="321" y="818" font-size="11.5" font-weight="bold" font-style="italic" fill="#cfcfcf" textLength="235" lengthAdjust="spacing">internetowy sklep motocyklowy</text>
</g>

<!-- FOOTER TEXT -->
<text x="29.5" y="1540.2" font-size="21.6" fill="#2a2a2a" textLength="153.5" lengthAdjust="spacingAndGlyphs">DL1000AL5_E50_301A</text>
<text x="28.7" y="1571.7" font-size="21.6" fill="#2a2a2a" textLength="125" lengthAdjust="spacingAndGlyphs">STARTING MOTOR</text>
</svg>
</body></html>
